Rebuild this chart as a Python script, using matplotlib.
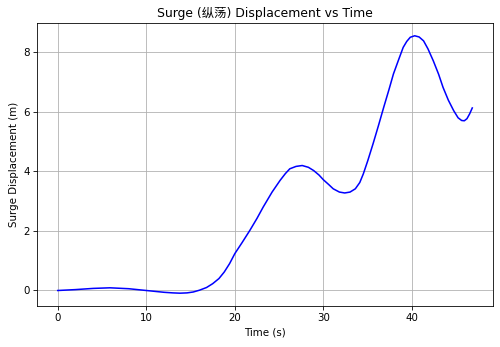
import matplotlib.pyplot as plt

# values
time_s = [0.0, 2.0, 4.0, 5.9, 8.0, 10.0, 12.0, 13.0, 13.8, 14.6, 15.3, 16.0, 16.8, 17.5, 18.2,
          18.8, 19.4, 20.0, 20.8, 21.7, 22.5, 23.2, 24.2, 25.1, 25.7, 26.2, 26.9, 27.6,
          28.3, 28.9, 29.5, 30.0, 30.6, 31.1, 31.8, 32.4, 33.0, 33.6, 34.1, 34.5,
          35.0, 35.6, 36.2, 36.8, 37.4, 37.9, 38.5, 39.0, 39.4, 39.8, 40.3, 40.8,
          41.3, 41.8, 42.4, 43.0, 43.5, 44.1, 44.7, 45.2, 45.6, 45.9, 46.2, 46.5, 46.8]
surge_m = [0.0, 0.03, 0.07, 0.09, 0.06, 0.0, -0.06, -0.08, -0.09, -0.08, -0.05, 0.01, 0.1, 0.23, 0.4,
           0.62, 0.9, 1.24, 1.6, 2.02, 2.42, 2.8, 3.3, 3.69, 3.92, 4.08, 4.16, 4.19,
           4.13, 4.02, 3.87, 3.71, 3.55, 3.41, 3.3, 3.27, 3.3, 3.41, 3.62, 3.91,
           4.35, 4.92, 5.52, 6.14, 6.74, 7.26, 7.75, 8.15, 8.35, 8.49, 8.54, 8.5,
           8.37, 8.1, 7.7, 7.25, 6.81, 6.38, 6.03, 5.79, 5.7, 5.69, 5.76, 5.92, 6.12]

# 500x347 px at 74 dpi, so default font sizes scale like the reference
fig, ax = plt.subplots(figsize=(500 / 74, 347 / 74), dpi=74)
ax.plot(time_s, surge_m, color="blue", linewidth=1.5)
ax.set_title("Surge (纵荡) Displacement vs Time",
             family=["DejaVu Sans", "Noto Sans CJK SC"])
ax.set_xlabel("Time (s)")
ax.set_ylabel("Surge Displacement (m)")
ax.set_yticks([0, 2, 4, 6, 8])
ax.grid(True)

fig.subplots_adjust(left=0.074, right=0.986, top=0.934, bottom=0.118)
fig.savefig("out.png", dpi=74)
